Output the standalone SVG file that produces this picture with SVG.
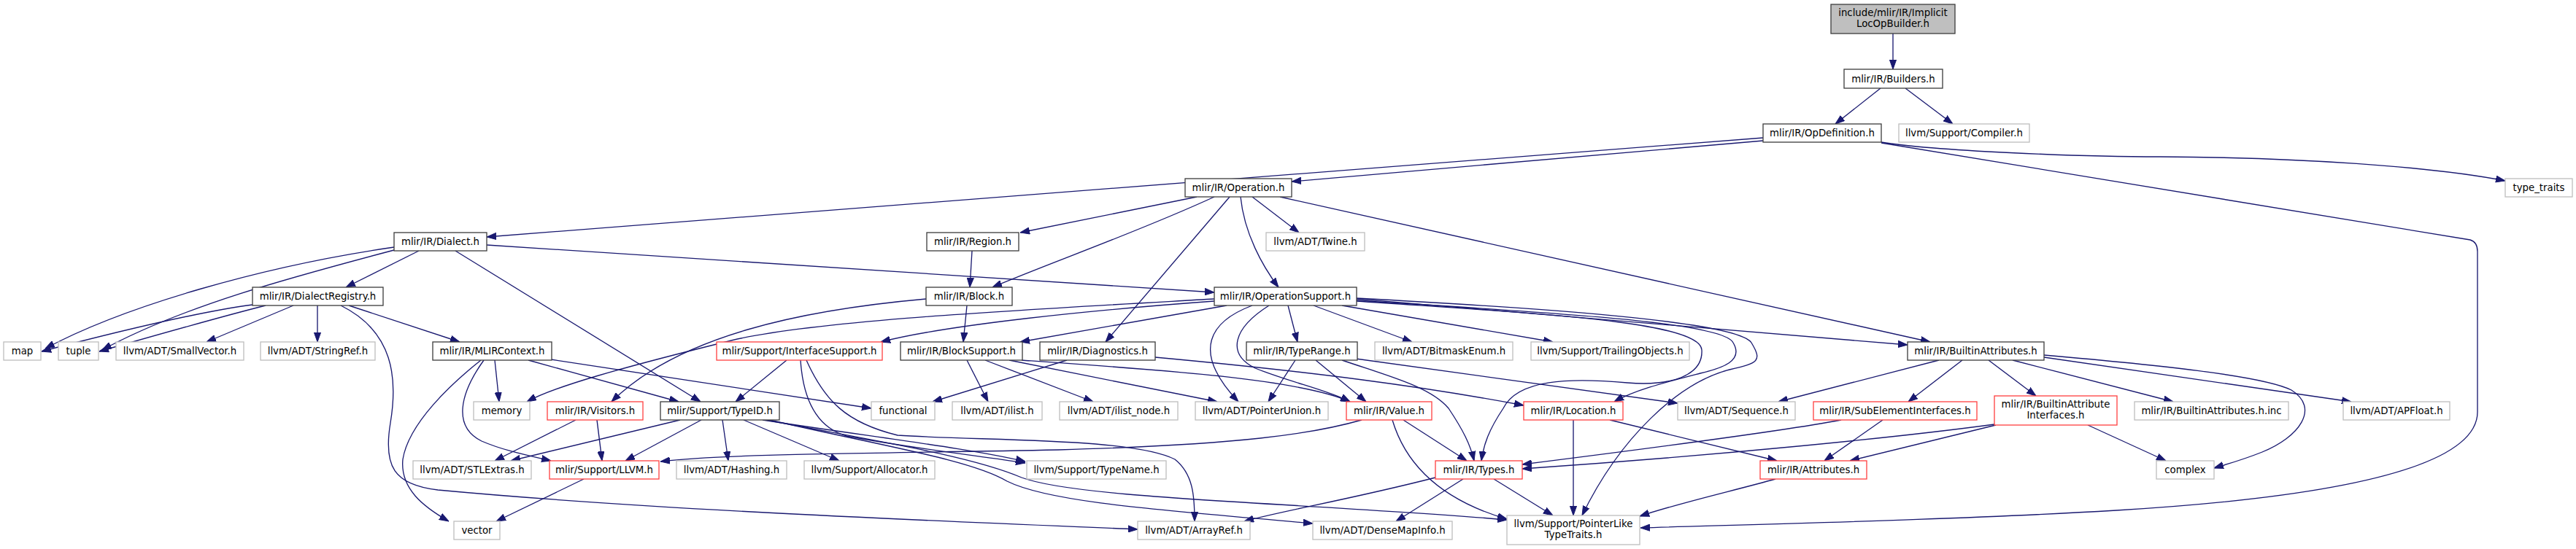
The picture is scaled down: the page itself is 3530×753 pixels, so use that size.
<svg xmlns="http://www.w3.org/2000/svg" width="3530" height="753" viewBox="0 0 3530 753">
<style>
rect{fill:#fff;stroke-width:1.33}
.b rect{stroke:#404040}
.r rect{stroke:#f44}
.g rect{stroke:#bfbfbf}
.root rect{fill:#bfbfbf;stroke:#404040}
text{font-family:"DejaVu Sans",sans-serif;font-size:13.3px;text-anchor:middle;fill:#000}
#edges path{fill:none;stroke:#191970;stroke-width:1.33;marker-end:url(#a)}
</style>
<defs>
<marker id="a" viewBox="0 0 13 10" refX="13" refY="5" markerWidth="13" markerHeight="10" markerUnits="userSpaceOnUse" orient="auto"><path d="M0,0.4L13,5L0,9.6z" fill="#191970" stroke="#191970" stroke-width="1"/></marker>
</defs>
<rect x="0" y="0" width="3530" height="753" style="fill:#fff;stroke:none"/>
<g id="edges">
<path d="M2594,46 L2594,95"/>
<path d="M2577,121 L2515,170"/>
<path d="M2611,121 L2676,170"/>
<path d="M2416,193 L1770,249"/>
<path d="M2416,189 L667,325"/>
<path d="M2578,195 C2650,207 2850,215 2960,215 C3150,216 3330,228 3433,248"/>
<path d="M2578,196 L3385,329 C3392,331 3395,336 3395,345 L3395,565 C3395,650 3150,685 2900,700 C2700,712 2450,718 2248,724"/>
<path d="M1640,270 L1398,319"/>
<path d="M1664,270 C1560,318 1440,360 1360,394"/>
<path d="M1685,270 L1515,469"/>
<path d="M1700,270 C1705,320 1730,365 1752,394"/>
<path d="M1716,270 L1780,319"/>
<path d="M1754,270 L2645,469"/>
<path d="M1332,344 L1329,394"/>
<path d="M574,344 L474,394"/>
<path d="M667,336 L1664,401"/>
<path d="M624,344 L960,551"/>
<path d="M540,339 C360,365 170,420 62,478"/>
<path d="M540,343 C400,380 250,420 140,480"/>
<path d="M346,418 C270,428 160,455 57,482"/>
<path d="M364,419 C300,435 220,458 136,482"/>
<path d="M402,419 L283,469"/>
<path d="M435,419 L435,469"/>
<path d="M478,419 L630,469"/>
<path d="M467,419 C540,455 545,520 535,580 C525,640 540,665 600,672 C900,700 1300,715 1559,726"/>
<path d="M659,494 C620,525 560,580 552,630 C548,670 580,695 615,715"/>
<path d="M663,494 C630,540 620,585 660,605 C690,618 725,625 755,632"/>
<path d="M678,494 L684,551"/>
<path d="M724,494 L930,551"/>
<path d="M755,493 L1194,560"/>
<path d="M1078,494 L1008,551"/>
<path d="M1097,494 C1100,540 1115,585 1160,598 C1250,615 1340,625 1405,635"/>
<path d="M1105,494 C1130,550 1160,580 1230,597 C1350,605 1550,600 1610,630 C1635,650 1637,680 1637,715"/>
<path d="M932,576 L700,632"/>
<path d="M961,576 L857,632"/>
<path d="M990,576 L998,632"/>
<path d="M1019,576 L1150,632"/>
<path d="M1045,576 C1200,600 1330,615 1405,633"/>
<path d="M1050,576 C1200,605 1330,625 1400,655 C1480,685 1800,690 2065,713"/>
<path d="M1055,576 C1200,610 1330,630 1380,660 C1440,690 1600,700 1799,718"/>
<path d="M789,576 L678,632"/>
<path d="M818,576 L825,632"/>
<path d="M800,657 L680,715"/>
<path d="M1269,410 C1100,425 930,460 838,551"/>
<path d="M1325,419 L1320,469"/>
<path d="M1664,413 C1500,425 1300,445 1207,469"/>
<path d="M1664,410 C1400,425 1100,440 990,470 C850,505 760,530 722,551"/>
<path d="M1681,419 L1398,469"/>
<path d="M1765,419 L1778,469"/>
<path d="M1800,419 L1935,469"/>
<path d="M1839,419 L2128,469"/>
<path d="M1716,419 C1660,440 1630,480 1697,551"/>
<path d="M1739,419 C1690,450 1680,485 1720,505 C1770,525 1820,535 1850,551"/>
<path d="M1859,413 C2100,430 2330,440 2332,480 C2334,515 2290,530 2230,525 C2150,518 2080,520 2060,560 C2040,590 2033,610 2030,632"/>
<path d="M1859,412 C2100,428 2360,440 2375,470 C2390,495 2360,505 2330,512 C2280,525 2240,535 2212,551"/>
<path d="M1859,409 C2100,422 2380,440 2400,470 C2415,495 2410,498 2370,507 C2300,525 2220,600 2168,707"/>
<path d="M1859,410 L2614,473"/>
<path d="M1775,494 L1738,551"/>
<path d="M1803,494 L1872,551"/>
<path d="M1839,494 C1900,515 1960,530 1985,560 C2005,590 2015,610 2020,632"/>
<path d="M1858,492 L2299,553"/>
<path d="M1325,494 L1354,551"/>
<path d="M1350,494 L1498,551"/>
<path d="M1383,494 L1668,551"/>
<path d="M1400,494 C1600,508 1780,520 1850,551"/>
<path d="M1462,494 L1278,551"/>
<path d="M1583,490 C1800,510 1950,530 2088,556"/>
<path d="M1866,576 C1800,595 1700,610 1450,617 C1200,622 1000,622 905,633"/>
<path d="M1923,576 L2010,632"/>
<path d="M1908,576 C1930,650 1990,690 2065,712"/>
<path d="M2156,576 L2156,707"/>
<path d="M2206,576 L2435,632"/>
<path d="M1967,655 C1850,685 1760,700 1705,715"/>
<path d="M2005,657 L1913,715"/>
<path d="M2047,657 L2128,707"/>
<path d="M2523,576 C2450,590 2300,610 2086,637"/>
<path d="M2580,576 L2500,632"/>
<path d="M2733,582 C2600,600 2350,625 2086,643"/>
<path d="M2735,583 L2535,632"/>
<path d="M2861,583 L2968,632"/>
<path d="M2433,657 C2380,672 2300,690 2247,708"/>
<path d="M2657,494 L2437,551"/>
<path d="M2689,494 L2615,551"/>
<path d="M2725,494 L2790,543"/>
<path d="M2758,494 L2978,551"/>
<path d="M2801,490 L3222,551"/>
<path d="M2801,487 C2950,500 3100,515 3140,535 C3180,560 3150,600 3100,620 C3070,632 3050,637 3034,642"/>
</g>
<g id="n_root" class="root"><rect x="2509" y="6" width="170" height="40"/><text x="2594" y="22">include/mlir/IR/Implicit</text><text x="2594" y="37">LocOpBuilder.h</text></g>
<g id="n_builders" class="b"><rect x="2527" y="95" width="135" height="26"/><text x="2594.5" y="113">mlir/IR/Builders.h</text></g>
<g id="n_opdef" class="b"><rect x="2416" y="170" width="162" height="25"/><text x="2497" y="187">mlir/IR/OpDefinition.h</text></g>
<g id="n_compiler" class="g"><rect x="2602" y="170" width="179" height="25"/><text x="2691.5" y="187">llvm/Support/Compiler.h</text></g>
<g id="n_operation" class="b"><rect x="1624" y="245" width="146" height="25"/><text x="1697" y="262">mlir/IR/Operation.h</text></g>
<g id="n_typetraits" class="g"><rect x="3433" y="245" width="92" height="25"/><text x="3479" y="262">type_traits</text></g>
<g id="n_dialect" class="b"><rect x="540" y="319" width="127" height="25"/><text x="603.5" y="336">mlir/IR/Dialect.h</text></g>
<g id="n_region" class="b"><rect x="1270" y="319" width="126" height="25"/><text x="1333" y="336">mlir/IR/Region.h</text></g>
<g id="n_twine" class="g"><rect x="1735" y="319" width="135" height="25"/><text x="1802.5" y="336">llvm/ADT/Twine.h</text></g>
<g id="n_dialectregistry" class="b"><rect x="346" y="394" width="179" height="25"/><text x="435.5" y="411">mlir/IR/DialectRegistry.h</text></g>
<g id="n_block" class="b"><rect x="1269" y="394" width="118" height="25"/><text x="1328" y="411">mlir/IR/Block.h</text></g>
<g id="n_opsupport" class="b"><rect x="1664" y="394" width="195" height="25"/><text x="1761.5" y="411">mlir/IR/OperationSupport.h</text></g>
<g id="n_map" class="g"><rect x="5" y="469" width="51" height="25"/><text x="30.5" y="486">map</text></g>
<g id="n_tuple" class="g"><rect x="80" y="469" width="55" height="25"/><text x="107.5" y="486">tuple</text></g>
<g id="n_smallvector" class="g"><rect x="159" y="469" width="175" height="25"/><text x="246.5" y="486">llvm/ADT/SmallVector.h</text></g>
<g id="n_stringref" class="g"><rect x="357" y="469" width="157" height="25"/><text x="435.5" y="486">llvm/ADT/StringRef.h</text></g>
<g id="n_mlircontext" class="b"><rect x="593" y="469" width="163" height="25"/><text x="674.5" y="486">mlir/IR/MLIRContext.h</text></g>
<g id="n_interfacesupport" class="r"><rect x="982" y="469" width="227" height="25"/><text x="1095.5" y="486">mlir/Support/InterfaceSupport.h</text></g>
<g id="n_blocksupport" class="b"><rect x="1234" y="469" width="167" height="25"/><text x="1317.5" y="486">mlir/IR/BlockSupport.h</text></g>
<g id="n_diagnostics" class="b"><rect x="1425" y="469" width="158" height="25"/><text x="1504" y="486">mlir/IR/Diagnostics.h</text></g>
<g id="n_typerange" class="b"><rect x="1708" y="469" width="152" height="25"/><text x="1784" y="486">mlir/IR/TypeRange.h</text></g>
<g id="n_bitmask" class="g"><rect x="1884" y="469" width="189" height="25"/><text x="1978.5" y="486">llvm/ADT/BitmaskEnum.h</text></g>
<g id="n_trailing" class="g"><rect x="2098" y="469" width="217" height="25"/><text x="2206.5" y="486">llvm/Support/TrailingObjects.h</text></g>
<g id="n_builtinattrs" class="b"><rect x="2614" y="469" width="187" height="25"/><text x="2707.5" y="486">mlir/IR/BuiltinAttributes.h</text></g>
<g id="n_memory" class="g"><rect x="649" y="551" width="77" height="25"/><text x="687.5" y="568">memory</text></g>
<g id="n_visitors" class="r"><rect x="750" y="551" width="131" height="25"/><text x="815.5" y="568">mlir/IR/Visitors.h</text></g>
<g id="n_typeid" class="b"><rect x="905" y="551" width="163" height="25"/><text x="986.5" y="568">mlir/Support/TypeID.h</text></g>
<g id="n_functional" class="g"><rect x="1194" y="551" width="87" height="25"/><text x="1237.5" y="568">functional</text></g>
<g id="n_ilist" class="g"><rect x="1305" y="551" width="123" height="25"/><text x="1366.5" y="568">llvm/ADT/ilist.h</text></g>
<g id="n_ilistnode" class="g"><rect x="1452" y="551" width="162" height="25"/><text x="1533" y="568">llvm/ADT/ilist_node.h</text></g>
<g id="n_pointerunion" class="g"><rect x="1638" y="551" width="182" height="25"/><text x="1729" y="568">llvm/ADT/PointerUnion.h</text></g>
<g id="n_value" class="r"><rect x="1845" y="551" width="117" height="25"/><text x="1903.5" y="568">mlir/IR/Value.h</text></g>
<g id="n_location" class="r"><rect x="2088" y="551" width="136" height="25"/><text x="2156" y="568">mlir/IR/Location.h</text></g>
<g id="n_sequence" class="g"><rect x="2299" y="551" width="161" height="25"/><text x="2379.5" y="568">llvm/ADT/Sequence.h</text></g>
<g id="n_subelement" class="r"><rect x="2485" y="551" width="224" height="25"/><text x="2597" y="568">mlir/IR/SubElementInterfaces.h</text></g>
<g id="n_bai" class="r"><rect x="2733" y="543" width="168" height="40"/><text x="2817" y="559">mlir/IR/BuiltinAttribute</text><text x="2817" y="574">Interfaces.h</text></g>
<g id="n_builtininc" class="g"><rect x="2925" y="551" width="211" height="25"/><text x="3030.5" y="568">mlir/IR/BuiltinAttributes.h.inc</text></g>
<g id="n_apfloat" class="g"><rect x="3211" y="551" width="146" height="25"/><text x="3284" y="568">llvm/ADT/APFloat.h</text></g>
<g id="n_stlextras" class="g"><rect x="566" y="632" width="162" height="25"/><text x="647" y="649">llvm/ADT/STLExtras.h</text></g>
<g id="n_llvm" class="r"><rect x="753" y="632" width="150" height="25"/><text x="828" y="649">mlir/Support/LLVM.h</text></g>
<g id="n_hashing" class="g"><rect x="927" y="632" width="151" height="25"/><text x="1002.5" y="649">llvm/ADT/Hashing.h</text></g>
<g id="n_allocator" class="g"><rect x="1102" y="632" width="179" height="25"/><text x="1191.5" y="649">llvm/Support/Allocator.h</text></g>
<g id="n_typename" class="g"><rect x="1407" y="632" width="191" height="25"/><text x="1502.5" y="649">llvm/Support/TypeName.h</text></g>
<g id="n_types" class="r"><rect x="1967" y="632" width="119" height="25"/><text x="2026.5" y="649">mlir/IR/Types.h</text></g>
<g id="n_attributes" class="r"><rect x="2412" y="632" width="146" height="25"/><text x="2485" y="649">mlir/IR/Attributes.h</text></g>
<g id="n_complex" class="g"><rect x="2955" y="632" width="79" height="25"/><text x="2994.5" y="649">complex</text></g>
<g id="n_vector" class="g"><rect x="622" y="715" width="63" height="25"/><text x="653.5" y="732">vector</text></g>
<g id="n_arrayref" class="g"><rect x="1559" y="715" width="154" height="25"/><text x="1636" y="732">llvm/ADT/ArrayRef.h</text></g>
<g id="n_densemap" class="g"><rect x="1799" y="715" width="191" height="25"/><text x="1894.5" y="732">llvm/ADT/DenseMapInfo.h</text></g>
<g id="n_pltt" class="g"><rect x="2065" y="707" width="182" height="40"/><text x="2156" y="723">llvm/Support/PointerLike</text><text x="2156" y="738">TypeTraits.h</text></g>
</svg>
